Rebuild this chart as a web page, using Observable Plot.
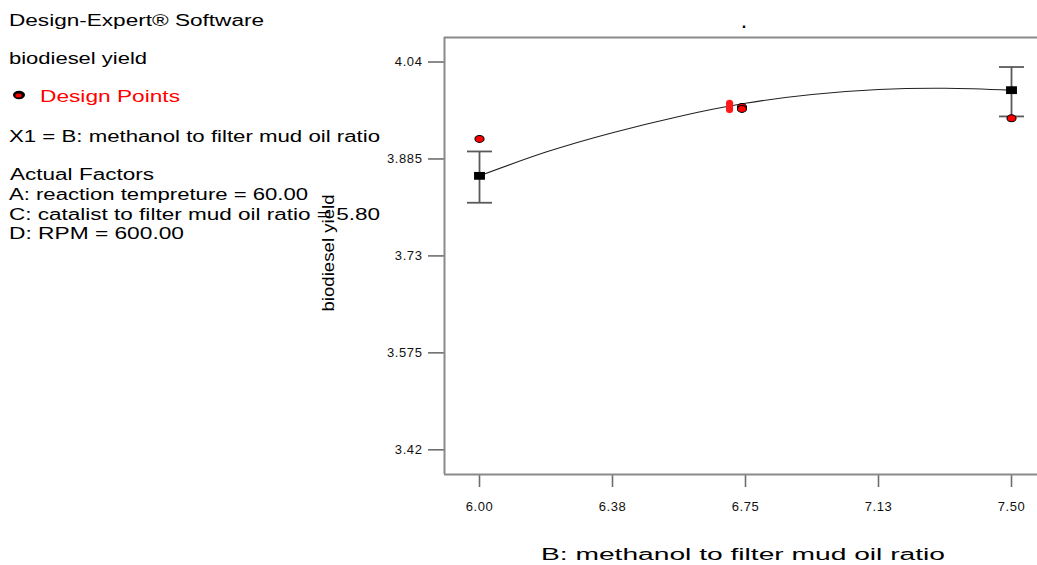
<!DOCTYPE html>
<html>
<head>
<meta charset="utf-8">
<script src="https://cdn.jsdelivr.net/npm/d3@7"></script>
<script src="https://cdn.jsdelivr.net/npm/@observablehq/plot@0.6"></script>
<style>
  html, body { margin: 0; padding: 0; background: #fff; overflow: hidden; }
  #wrap { position: relative; width: 1037px; height: 565px; }
  #wrap > svg { position: absolute; left: 0; top: 0; }
  #notes { pointer-events: none; }
</style>
</head>
<body>
<div id="wrap"></div>
<script>
// One-factor effect plot: biodiesel yield vs. methanol to filter mud oil ratio

// Axis ticks
const xTicks = [6.0, 6.375, 6.75, 7.125, 7.5];
const xTickLabels = ["6.00", "6.38", "6.75", "7.13", "7.50"];
const yTicks = [3.42, 3.575, 3.73, 3.885, 4.04];
const yTickLabels = ["3.42", "3.575", "3.73", "3.885", "4.04"];
const xDomain = [5.9013, 7.5733];
const yDomain = [3.3805, 4.0792];

// Predicted means with their interval bars at the factorial levels
const levelX = [6.0, 7.5];
const levelMean = [3.858, 3.995];
const levelLow = [3.815, 3.953];
const levelHigh = [3.897, 4.032];

// Model prediction curve
const curveX = [6.0, 6.1875, 6.375, 6.5625, 6.75, 6.9375, 7.125, 7.3125, 7.5];
const curveY = [3.858, 3.896, 3.927, 3.953, 3.974, 3.988, 3.996, 3.998, 3.995];

// Design points (outlined)
const pointX = [6.0, 7.5, 6.74, 6.74];
const pointY = [3.917, 3.950, 3.968, 3.965];

// Replicated centre points (unoutlined)
const centreX = [6.705, 6.705, 6.705];
const centreY = [3.974, 3.969, 3.964];

const font = "'Liberation Sans', Arial, Helvetica, sans-serif";

// Symbols drawn a little wider than tall
const ellipse = (ratio) => ({
  draw(ctx, size) {
    const ry = Math.sqrt(size / Math.PI), rx = ry * ratio, k = 0.5523;
    ctx.moveTo(rx, 0);
    ctx.bezierCurveTo(rx, ry * k, rx * k, ry, 0, ry);
    ctx.bezierCurveTo(-rx * k, ry, -rx, ry * k, -rx, 0);
    ctx.bezierCurveTo(-rx, -ry * k, -rx * k, -ry, 0, -ry);
    ctx.bezierCurveTo(rx * k, -ry, rx, -ry * k, rx, 0);
    ctx.closePath();
  }
});
const box = {
  draw(ctx, size) {
    const h = Math.sqrt(size / Math.PI), w = h * 1.4;
    ctx.rect(-w, -h, 2 * w, 2 * h);
  }
};
const cap = {
  draw(ctx) { ctx.moveTo(-12.5, 0); ctx.lineTo(12.5, 0); }
};

const levels = levelX.map((x, i) => ({x, mean: levelMean[i], lo: levelLow[i], hi: levelHigh[i]}));
const curve = curveX.map((x, i) => ({x, y: curveY[i]}));
const points = pointX.map((x, i) => ({x, y: pointY[i]}));
const centre = centreX.map((x, i) => ({x, y: centreY[i]}));

const chart = Plot.plot({
  width: 1037,
  height: 565,
  marginLeft: 444,
  marginRight: 0,
  marginTop: 37,
  marginBottom: 91,
  style: {fontFamily: font, background: "transparent"},
  x: {domain: xDomain},
  y: {domain: yDomain},
  marks: [
    Plot.axisX({ticks: xTicks, tickFormat: d => xTickLabels[xTicks.indexOf(d)], tickSize: 13, tickPadding: 14,
      fontSize: 13, stroke: "#6e6e6e", strokeWidth: 1.6, fill: "#111", label: null}),
    Plot.axisY({ticks: yTicks, tickFormat: d => yTickLabels[yTicks.indexOf(d)], tickSize: 16, tickPadding: 6,
      fontSize: 13, stroke: "#6e6e6e", strokeWidth: 1.6, fill: "#111", label: null}),
    Plot.line(curve, {x: "x", y: "y", curve: "natural", stroke: "#222", strokeWidth: 1.1}),
    Plot.ruleX(levels, {x: "x", y1: "lo", y2: "hi", stroke: "#5a5a5a", strokeWidth: 1.8}),
    Plot.dot(levels, {x: "x", y: "hi", symbol: cap, r: 4, stroke: "#5a5a5a", strokeWidth: 1.8, fill: "none"}),
    Plot.dot(levels, {x: "x", y: "lo", symbol: cap, r: 4, stroke: "#5a5a5a", strokeWidth: 1.8, fill: "none"}),
    Plot.dot(centre, {x: "x", y: "y", r: 3.6, fill: "#ff1a1a", stroke: "none"}),
    Plot.dot(points, {x: "x", y: "y", symbol: ellipse(1.3), r: 3.5, fill: "#ff0000", stroke: "#000", strokeWidth: 1.1}),
    Plot.dot(levels, {x: "x", y: "mean", symbol: box, r: 3.9, fill: "#000", stroke: "none"}),
    Plot.ruleX([xDomain[0]], {stroke: "#8a8a8a", strokeWidth: 2}),
    Plot.ruleY(yDomain, {stroke: "#8a8a8a", strokeWidth: 2})
  ]
});
d3.select(chart).selectAll("text").attr("letter-spacing", "0.6px");
document.getElementById("wrap").appendChild(chart);

// Side notes, legend entry and axis titles
const notes = d3.select("#wrap").append("svg")
  .attr("id", "notes").attr("width", 1037).attr("height", 565)
  .style("font-family", font);

const noteLines = [
  {text: "Design-Expert® Software", x: 9, y: 26, len: 255, fill: "#000"},
  {text: "biodiesel yield", x: 9, y: 64, len: 138, fill: "#000"},
  {text: "Design Points", x: 40, y: 102, len: 140, fill: "#ff0000"},
  {text: "X1 = B: methanol to filter mud oil ratio", x: 9, y: 142, len: 371, fill: "#000"},
  {text: "Actual Factors", x: 10, y: 180, len: 144, fill: "#000"},
  {text: "A: reaction tempreture = 60.00", x: 9, y: 200, len: 299, fill: "#000"},
  {text: "C: catalist to filter mud oil ratio = 5.80", x: 9, y: 220, len: 371, fill: "#000"},
  {text: "D: RPM = 600.00", x: 9, y: 239, len: 175, fill: "#000"}
];
notes.selectAll("text.note").data(noteLines).join("text")
  .attr("class", "note")
  .attr("x", d => d.x).attr("y", d => d.y)
  .attr("font-size", 16)
  .attr("textLength", d => d.len)
  .attr("lengthAdjust", "spacingAndGlyphs")
  .attr("fill", d => d.fill)
  .text(d => d.text);

// legend swatch
notes.append("ellipse").attr("cx", 19).attr("cy", 95).attr("rx", 6).attr("ry", 4.2).attr("fill", "#000");
notes.append("ellipse").attr("cx", 18.5).attr("cy", 95.5).attr("rx", 3.2).attr("ry", 2).attr("fill", "#ff0000");

// chart title placeholder
notes.append("text").attr("x", 744).attr("y", 28).attr("text-anchor", "middle")
  .attr("font-size", 16).attr("font-weight", "bold").text(".");

// y axis title
notes.append("text")
  .attr("transform", "translate(334,253) rotate(-90)")
  .attr("text-anchor", "middle").attr("font-size", 17)
  .attr("textLength", 117).attr("lengthAdjust", "spacingAndGlyphs")
  .text("biodiesel yield");

// x axis title
notes.append("text")
  .attr("x", 743).attr("y", 560)
  .attr("text-anchor", "middle").attr("font-size", 16)
  .attr("textLength", 404).attr("lengthAdjust", "spacingAndGlyphs")
  .text("B: methanol to filter mud oil ratio");
</script>
</body>
</html>
